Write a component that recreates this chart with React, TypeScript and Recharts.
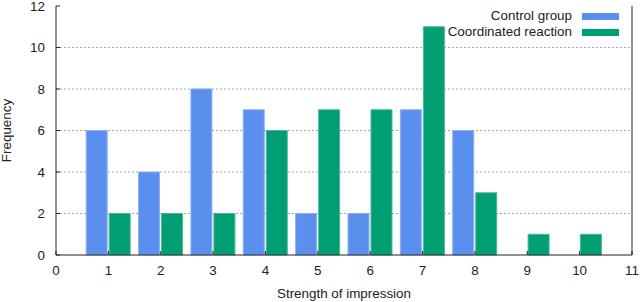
import React from 'react';
import { BarChart, Bar, XAxis, YAxis, CartesianGrid, Legend, Label } from 'recharts';

const impressions = [1, 2, 3, 4, 5, 6, 7, 8, 9, 10];
const controlGroup = [6, 4, 8, 7, 2, 2, 7, 6, 0, 0];
const coordinatedReaction = [2, 2, 2, 6, 7, 7, 11, 3, 1, 1];
const xTicks = [0, 1, 2, 3, 4, 5, 6, 7, 8, 9, 10, 11];
const yTicks = [0, 2, 4, 6, 8, 10, 12];
const gridValues = [2, 4, 6, 8, 10];

const data = impressions.map((x, i) => ({
  x,
  control: controlGroup[i],
  coordinated: coordinatedReaction[i],
}));

const FONT = '"Liberation Sans", Arial, sans-serif';
const FS = 13.4;
const INK = '#222';

const BottomTick = (props: any) => {
  const { x, y, payload } = props;
  return (
    <g>
      <line x1={x} x2={x} y1={y} y2={y - 4} stroke={INK} />
      <text x={x} y={y + 20} textAnchor="middle" fontFamily={FONT} fontSize={FS} fill={INK}>
        {payload.value}
      </text>
    </g>
  );
};

const TopTick = (props: any) => {
  const { x, y } = props;
  return <line x1={x} x2={x} y1={y} y2={y + 4} stroke={INK} />;
};

const LeftTick = (props: any) => {
  const { x, y, payload } = props;
  return (
    <g>
      <line x1={x} x2={x + 4} y1={y} y2={y} stroke={INK} />
      <text x={x - 11} y={y + 4.7} textAnchor="end" fontFamily={FONT} fontSize={FS} fill={INK}>
        {payload.value}
      </text>
    </g>
  );
};

const RightTick = (props: any) => {
  const { x, y } = props;
  return <line x1={x} x2={x - 4} y1={y} y2={y} stroke={INK} />;
};

const renderLegend = (props: any) => {
  const { payload } = props;
  return (
    <div style={{ display: 'flex', flexDirection: 'column', alignItems: 'flex-end' }}>
      {(payload || []).map((e: any) => (
        <div key={e.value} style={{ display: 'flex', alignItems: 'center', height: 16.5 }}>
          <span style={{ fontFamily: FONT, fontSize: FS, color: INK, lineHeight: '16.5px' }}>{e.value}</span>
          <span
            style={{ display: 'inline-block', width: 37, height: 7, background: e.color, marginLeft: 10 }}
          />
        </div>
      ))}
    </div>
  );
};

export default function App() {
  return (
    <div style={{ position: 'absolute', left: 0, top: 0 }}>
      <BarChart
        width={640}
        height={302}
        data={data}
        margin={{ top: 6, right: 0, bottom: 0, left: 0 }}
        barSize={21}
        barGap={2}
      >
        <CartesianGrid
          vertical={false}
          horizontalValues={gridValues}
          stroke="#a6a6a6"
          strokeDasharray="2 2"
        />
        <XAxis
          dataKey="x"
          type="number"
          domain={[0, 11]}
          ticks={xTicks}
          interval={0}
          height={47}
          tickSize={0}
          tickMargin={0}
          tickLine={false}
          axisLine={{ stroke: INK }}
          tick={<BottomTick />}
        >
          <Label
            content={(p: any) => {
              const vb = p.viewBox || {};
              return (
                <text
                  x={vb.x + vb.width / 2}
                  y={297.5}
                  textAnchor="middle"
                  fontFamily={FONT}
                  fontSize={FS}
                  fill={INK}
                >
                  Strength of impression
                </text>
              );
            }}
          />
        </XAxis>
        <XAxis
          xAxisId="top"
          dataKey="x"
          type="number"
          orientation="top"
          domain={[0, 11]}
          ticks={xTicks}
          interval={0}
          height={0}
          tickSize={0}
          tickMargin={0}
          tickLine={false}
          axisLine={false}
          tick={<TopTick />}
        />
        <YAxis
          type="number"
          domain={[0, 12]}
          ticks={yTicks}
          interval={0}
          width={56}
          tickSize={0}
          tickMargin={0}
          tickLine={false}
          axisLine={{ stroke: INK }}
          tick={<LeftTick />}
        >
          <Label
            content={(p: any) => {
              const vb = p.viewBox || {};
              const cy = vb.y + vb.height / 2;
              return (
                <text
                  x={11}
                  y={cy}
                  transform={`rotate(-90 11 ${cy})`}
                  textAnchor="middle"
                  fontFamily={FONT}
                  fontSize={FS}
                  fill={INK}
                >
                  Frequency
                </text>
              );
            }}
          />
        </YAxis>
        <YAxis
          yAxisId="right"
          orientation="right"
          type="number"
          domain={[0, 12]}
          ticks={yTicks}
          interval={0}
          width={8}
          tickSize={0}
          tickMargin={0}
          tickLine={false}
          axisLine={{ stroke: INK }}
          tick={<RightTick />}
        />
        <Legend
          layout="vertical"
          align="center"
          verticalAlign="middle"
          content={renderLegend}
          wrapperStyle={{ position: 'absolute', top: 7.75, left: 0, width: 619, height: 33 }}
        />
        <Bar
          dataKey="control"
          name="Control group"
          fill="#5a8fed"
          stroke="#8ab2f5"
          strokeWidth={1}
          isAnimationActive={false}
        />
        <Bar
          dataKey="coordinated"
          name="Coordinated reaction"
          fill="#009e73"
          stroke="#4db898"
          strokeWidth={1}
          isAnimationActive={false}
        />
      </BarChart>
    </div>
  );
}
